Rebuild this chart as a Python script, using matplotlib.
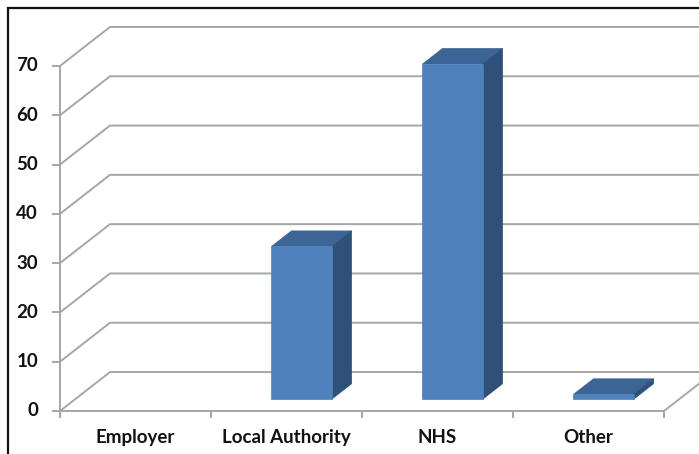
import matplotlib.pyplot as plt
from matplotlib.patches import Polygon, Rectangle

categories = ["Employer", "Local Authority", "NHS", "Other"]
values = [0, 31, 68, 1]
yticks = [0, 10, 20, 30, 40, 50, 60, 70]

# oblique 3d look: full depth of the floor in data units
DX = 50 / 151
DY = 7.9
D0, D1 = 0.3, 0.7      # bar depth range
HW = 0.199             # half width of a bar

grid_c = "#a6a6a6"
front_c = "#4f81bd"
top_c = "#3c6595"
side_c = "#2f5079"
text_c = "#111111"
font = dict(family="Lato", weight="bold", fontsize=13.5, color=text_c)


def proj(x, y, d):
    return (x + d * DX, y + d * DY)


fig = plt.figure(figsize=(6.99, 4.54), dpi=100)
ax = fig.add_axes([0, 0, 1, 1])
ax.set_xlim(-60 / 151, 639 / 151)
ax.set_ylim(-43 / 4.93, 411 / 4.93)
ax.axis("off")

# frame round the chart
fig.patches.append(Rectangle((8 / 699, -0.1), 1.2, 1 - 8 / 454 + 0.1,
                             transform=fig.transFigure, fill=False,
                             edgecolor=text_c, linewidth=1.6))

n = len(categories)
# gridlines: diagonal on the side wall, then along the back wall
for v in yticks:
    x0, y0 = proj(0, v, 0)
    x1, y1 = proj(0, v, 1)
    x2, y2 = proj(n, v, 1)
    ax.plot([x0, x1, x2], [y0, y1, y2], color=grid_c, lw=1.4,
            solid_capstyle="butt", zorder=1)
    ax.plot([-0.045, 0], [v, v], color=grid_c, lw=1.4, zorder=1)
    ax.text(-0.145, v, str(v), ha="right", va="center", **font)

# front floor edge, right floor edge and value axis
ax.plot([0, n], [0, 0], color=grid_c, lw=1.4, zorder=1)
xa, ya = proj(n, 0, 1)
ax.plot([n, xa], [0, ya], color=grid_c, lw=1.4, zorder=1)
ax.plot([0, 0], [0, yticks[-1]], color=grid_c, lw=1.4, zorder=1)
for i in range(n + 1):
    ax.plot([i, i], [0, -1.3], color=grid_c, lw=1.4, zorder=1)

for i, (name, v) in enumerate(zip(categories, values)):
    ax.text(i + 0.5, -5.4, name, ha="center", va="center", **font)
    if v <= 0:
        continue
    c = i + 0.5
    l, r = c - HW, c + HW
    top = [proj(l, v, D0), proj(r, v, D0), proj(r, v, D1), proj(l, v, D1)]
    side = [proj(r, 0, D0), proj(r, v, D0), proj(r, v, D1), proj(r, 0, D1)]
    front = [proj(l, 0, D0), proj(r, 0, D0), proj(r, v, D0), proj(l, v, D0)]
    ax.add_patch(Polygon(top, closed=True, facecolor=top_c,
                         edgecolor=top_c, lw=0.5, zorder=3))
    ax.add_patch(Polygon(side, closed=True, facecolor=side_c,
                         edgecolor=side_c, lw=0.5, zorder=3))
    ax.add_patch(Polygon(front, closed=True, facecolor=front_c,
                         edgecolor=front_c, lw=0.5, zorder=4))

fig.savefig("out.png", dpi=100)
